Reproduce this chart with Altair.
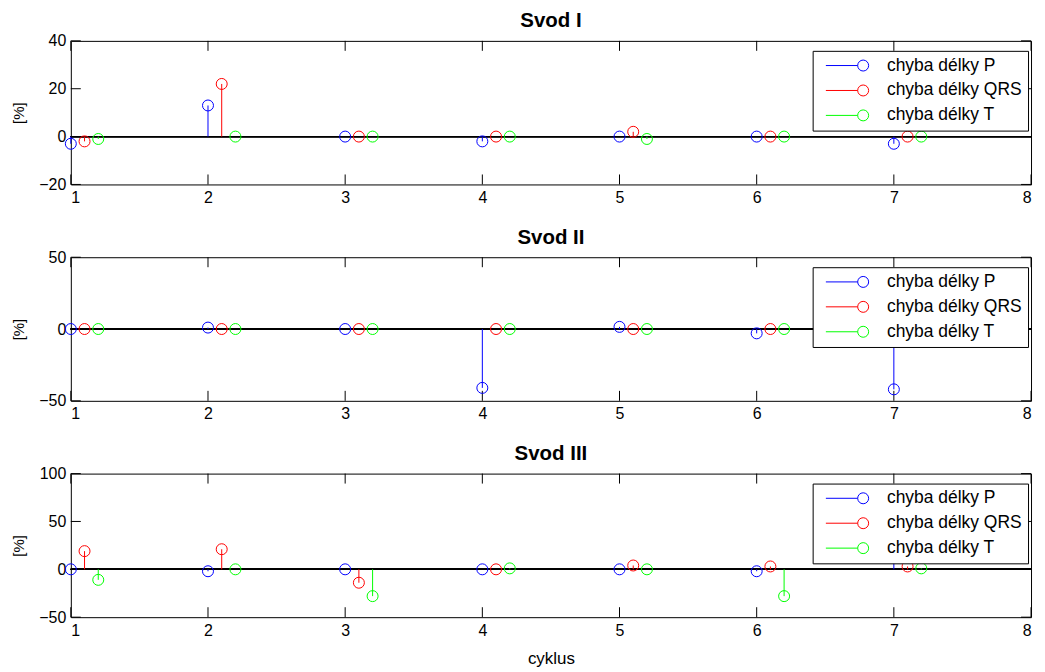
import altair as alt
import pandas as pd

FONT = "Liberation Sans"

cycles = [1, 2, 3, 4, 5, 6, 7]
series = ["chyba délky P", "chyba délky QRS", "chyba délky T"]
colors = ["#0000ff", "#ff0000", "#00ff00"]
series_shift = [0.0, 0.1, 0.2]

svod1_P = [-3, 13, 0, -2, 0, 0, -3]
svod1_QRS = [-2, 22, 0, 0, 2, 0, 0]
svod1_T = [-1, 0, 0, 0, -1, 0, 0]

svod2_P = [0, 1, 0, -41, 1.5, -3, -42]
svod2_QRS = [0, 0, 0, 0, 0, 0, 0]
svod2_T = [0, 0, 0, 0, 0, 0, 0]

svod3_P = [0, -2, 0, 0, 0, -2, 35]
svod3_QRS = [19, 21, -14, 0, 4, 3, 3]
svod3_T = [-11, 0, -28, 1, 0, -28, 1]

panel_titles = ["Svod I", "Svod II", "Svod III"]
panel_values = [
    [svod1_P, svod1_QRS, svod1_T],
    [svod2_P, svod2_QRS, svod2_T],
    [svod3_P, svod3_QRS, svod3_T],
]
y_domains = [[-20, 40], [-50, 50], [-50, 100]]
y_ticks = [[-20, 0, 20, 40], [-50, 0, 50], [-50, 0, 50, 100]]
x_ticks = [1, 2, 3, 4, 5, 6, 7, 8]

W, H = 963, 144
TL = 10  # inward tick length (px)

# legend symbol: short line ending in an open circle
LEG_SYMBOL = "M-1,0L4.8,0M6.8,0A1,1,0,1,1,4.8,0A1,1,0,1,1,6.8,0"


def make_panel(i, last):
    rows = []
    for s, name in enumerate(series):
        for c, v in zip(cycles, panel_values[i][s]):
            rows.append({"x": c + series_shift[s], "v": v, "series": name})
    df = pd.DataFrame(rows)
    xt = pd.DataFrame({"x": x_ticks})
    yt = pd.DataFrame({"v": y_ticks[i]})

    xs = alt.Scale(domain=[1, 8], nice=False, zero=False)
    ys = alt.Scale(domain=y_domains[i], nice=False, zero=False)

    legend = alt.Legend(
        title=None, orient="none", legendX=744, legendY=10, padding=6,
        strokeColor="black", fillColor="white",
        symbolType=LEG_SYMBOL, symbolSize=121, symbolStrokeWidth=1,
        symbolFillColor="transparent", symbolOffset=4,
        labelFont=FONT, labelFontSize=17.5, labelColor="black",
        labelOffset=47, rowPadding=6,
    )
    color = alt.Color("series:N", scale=alt.Scale(domain=series, range=colors), legend=legend)

    bottom_axis = alt.Axis(
        orient="bottom", values=x_ticks, format="d", ticks=False,
        domain=False, grid=False, labelFont=FONT, labelFontSize=16, labelColor="black",
        labelPadding=5, title="cyklus" if last else None,
        titleFont=FONT, titleFontSize=17, titleFontWeight="normal", titleColor="black",
        titlePadding=12,
    )
    left_axis = alt.Axis(
        orient="left", values=y_ticks[i], format="d", ticks=False,
        domain=False, grid=False, labelFont=FONT, labelFontSize=16, labelColor="black",
        labelPadding=5, title="[%]", titleFont=FONT, titleFontSize=15,
        titleFontWeight="normal", titleColor="black", titleAngle=270,
        titleX=-52, titleY=H / 2, titleAlign="center", titleBaseline="middle",
    )
    X = lambda: alt.X("x:Q", scale=xs, axis=bottom_axis)
    Y = lambda: alt.Y("v:Q", scale=ys, axis=left_axis)

    base = alt.Chart(df)
    baseline = base.mark_rule(color="black", strokeWidth=1).encode(
        y=alt.YDatum(0, scale=ys, axis=left_axis, type="quantitative")
    )
    xtick_top = alt.Chart(xt).mark_rule(color="black", strokeWidth=1).encode(
        x=X(), y=alt.value(0), y2=alt.value(TL)
    )
    xtick_bot = alt.Chart(xt).mark_rule(color="black", strokeWidth=1).encode(
        x=X(), y=alt.value(H - TL), y2=alt.value(H)
    )
    ytick_left = alt.Chart(yt).mark_rule(color="black", strokeWidth=1).encode(
        y=Y(), x=alt.value(0), x2=alt.value(TL)
    )
    ytick_right = alt.Chart(yt).mark_rule(color="black", strokeWidth=1).encode(
        y=Y(), x=alt.value(W - TL), x2=alt.value(W)
    )
    stems = base.mark_rule(strokeWidth=1).encode(
        x=X(), y=Y(), y2=alt.Y2Datum(0), color=color,
    )
    points = base.mark_point(filled=False, size=121, strokeWidth=1, shape="circle", opacity=1).encode(
        x=X(), y=Y(), color=color,
    )
    return alt.layer(
        xtick_top, xtick_bot, ytick_left, ytick_right, baseline, stems, points
    ).properties(
        width=W, height=H,
        title=alt.TitleParams(panel_titles[i], font=FONT, fontSize=20.5, fontWeight="bold",
                              color="black", anchor="middle", offset=-15, baseline="alphabetic"),
    )


chart = alt.vconcat(
    make_panel(0, False), make_panel(1, False), make_panel(2, True),
    spacing=73, bounds="flush",
).resolve_legend(color="independent").resolve_scale(color="independent").properties(
    padding={"left": 3, "top": 2, "right": 5, "bottom": 0}, background="white"
).configure_view(stroke="black", strokeWidth=1)

chart.save("out.html", embed_options={"renderer": "svg", "actions": False})
